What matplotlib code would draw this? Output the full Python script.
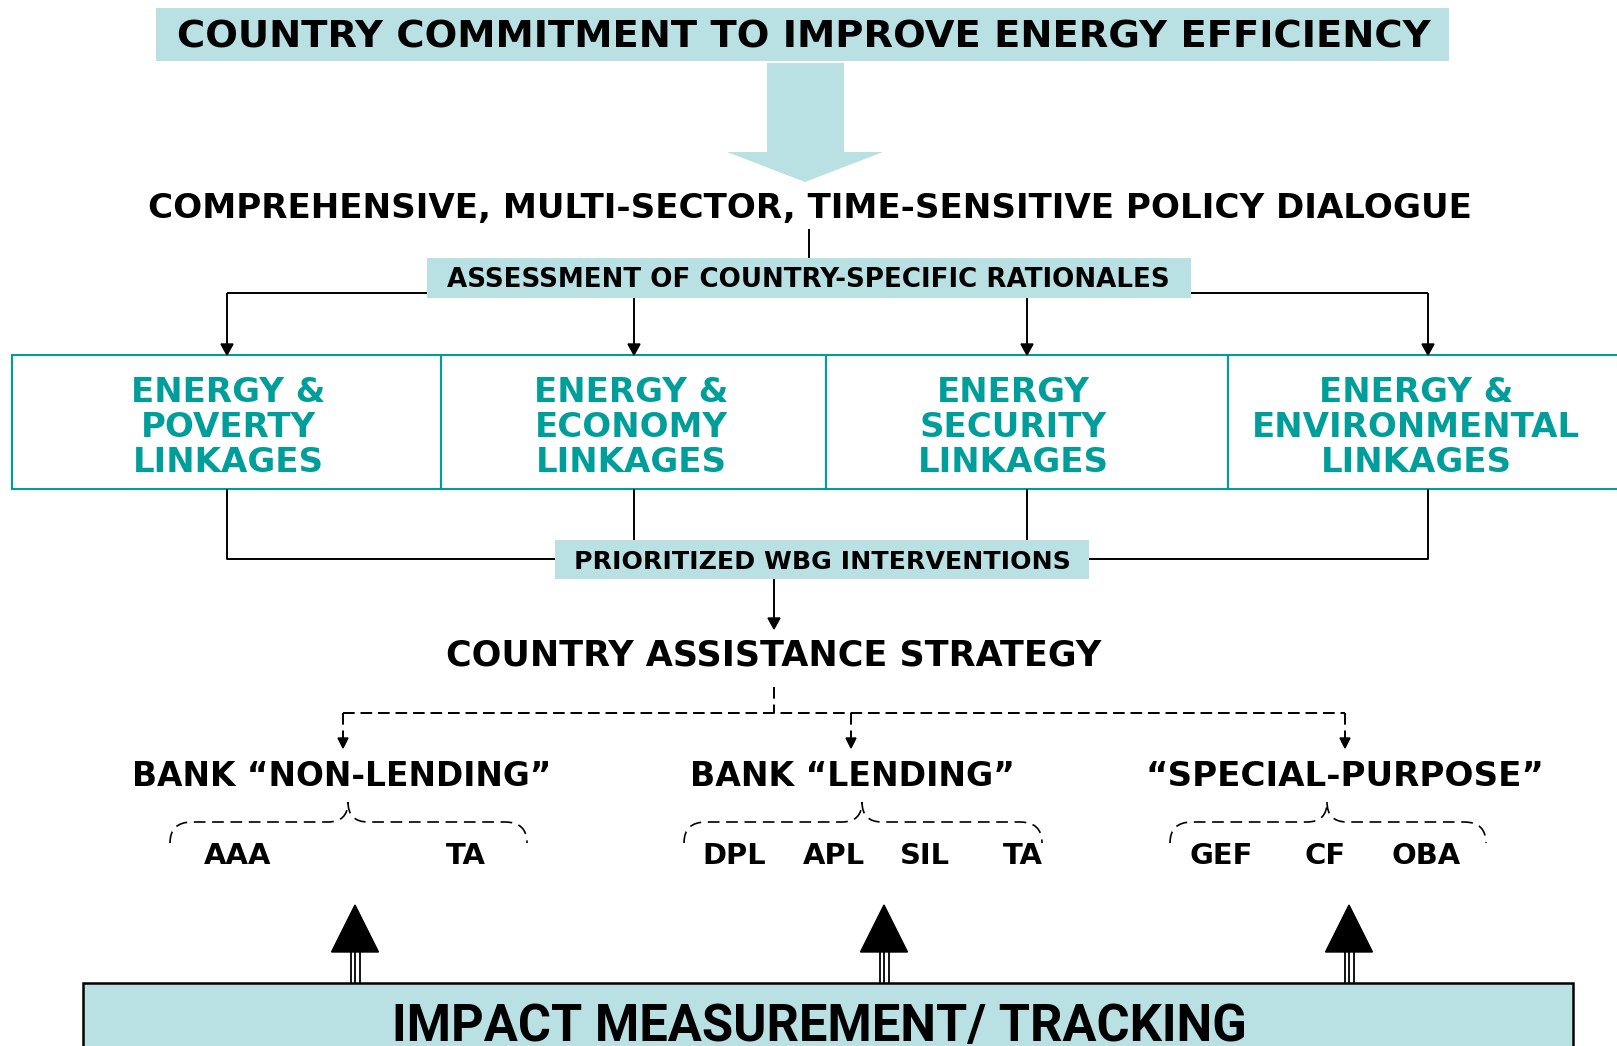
import matplotlib
matplotlib.use("Agg")
import matplotlib.pyplot as plt
from matplotlib.patches import Rectangle, Polygon, PathPatch
from matplotlib.path import Path

W, H = 1617, 1046
LIGHT = "#B9E0E3"
TEAL = "#009E9A"
FONT = "DejaVu Sans"

# texts of the diagram
title = "COUNTRY COMMITMENT TO IMPROVE ENERGY EFFICIENCY"
dialogue = "COMPREHENSIVE, MULTI-SECTOR, TIME-SENSITIVE POLICY DIALOGUE"
assessment = "ASSESSMENT OF COUNTRY-SPECIFIC RATIONALES"
linkages = [["ENERGY &", "POVERTY", "LINKAGES"],
            ["ENERGY &", "ECONOMY", "LINKAGES"],
            ["ENERGY", "SECURITY", "LINKAGES"],
            ["ENERGY &", "ENVIRONMENTAL", "LINKAGES"]]
priorities = "PRIORITIZED WBG INTERVENTIONS"
strategy = "COUNTRY ASSISTANCE STRATEGY"
channels = ["BANK \u201cNON-LENDING\u201d", "BANK \u201cLENDING\u201d", "\u201cSPECIAL-PURPOSE\u201d"]
instruments = [["AAA", "TA"], ["DPL", "APL", "SIL", "TA"], ["GEF", "CF", "OBA"]]
tracking = "IMPACT MEASUREMENT/ TRACKING"

# layout (pixels, y downwards)
link_x = [227, 634, 1027, 1428]
box_edges = [12, 441, 826, 1228, 1660]
link_text_x = [228, 631, 1013, 1416]
channel_x = [343, 851, 1345]
channel_text_x = [342, 852, 1345]
channel_w = [420, 326, 399]
braces = [(170, 348, 527), (684, 862, 1042), (1170, 1327, 1486)]
instr_x = [[238, 466], [734, 834, 925, 1023], [1221, 1325, 1426]]
up_x = [355, 884, 1349]

fig = plt.figure(figsize=(W / 100, H / 100), dpi=100)
ax = fig.add_axes([0, 0, 1, 1])
ax.set_xlim(0, W)
ax.set_ylim(H, 0)
ax.axis("off")
renderer = fig.canvas.get_renderer()


def size_for(s, width, family=FONT):
    t = ax.text(0, 0, s, fontweight="bold", family=family, fontsize=10)
    w = t.get_window_extent(renderer).width
    t.remove()
    return 10 * width / w


def fit(x, y, s, width=None, size=None, color="black", family=FONT):
    if size is None:
        size = size_for(s, width, family)
    ax.text(x, y, s, ha="center", va="baseline", fontweight="bold",
            color=color, family=family, fontsize=size, zorder=5)
    return size


def line(xs, ys, dashed=False, lw=1.4):
    ax.plot(xs, ys, color="black", lw=lw, ls=(0, (6, 3)) if dashed else "-",
            solid_capstyle="butt", zorder=3)


def arrow_down(x, y0, y1, dashed=False, hw=6, hl=11):
    line([x, x], [y0, y1 - hl], dashed)
    ax.add_patch(Polygon([[x - hw, y1 - hl], [x + hw, y1 - hl], [x, y1]],
                         closed=True, color="black", zorder=4))


# top box and big arrow
ax.add_patch(Rectangle((156, 8), 1293, 53, facecolor=LIGHT, edgecolor="none"))
fit(804, 47, title, 1258)
ax.add_patch(Polygon([[767, 63], [844, 63], [844, 152], [883, 152], [805, 182],
                      [727, 152], [767, 152]], closed=True, facecolor=LIGHT,
                     edgecolor="none"))

fit(810, 218, dialogue, 1329)
line([809, 809], [229, 258])

# assessment box
ax.add_patch(Rectangle((427, 258), 764, 40, facecolor=LIGHT, edgecolor="none"))
fit(808, 287, assessment, 726)
line([link_x[0], 427], [293, 293])
line([1191, link_x[3]], [293, 293])
for i, x in enumerate(link_x):
    arrow_down(x, 293 if i in (0, 3) else 298, 355)

# linkage boxes
for i in range(4):
    ax.add_patch(Rectangle((box_edges[i], 355), box_edges[i + 1] - box_edges[i], 134,
                           facecolor="white", edgecolor=TEAL, lw=1.5, zorder=2))
tsize = size_for("ENVIRONMENTAL", 329)
for x, lines in zip(link_text_x, linkages):
    for j, s in enumerate(lines):
        fit(x, 402 + 35 * j, s, size=tsize, color=TEAL)

# prioritized interventions
line([link_x[0], link_x[0], 555], [489, 559, 559])
line([link_x[3], link_x[3], 1089], [489, 559, 559])
line([link_x[1], link_x[1]], [489, 540])
line([link_x[2], link_x[2]], [489, 540])
ax.add_patch(Rectangle((555, 540), 534, 39, facecolor=LIGHT, edgecolor="none", zorder=2))
fit(822, 569, priorities, 497)
arrow_down(774, 579, 629)

fit(774, 665, strategy, 656)
line([774, 774], [687, 713], dashed=True)
line([channel_x[0], channel_x[-1]], [713, 713], dashed=True)
for x in channel_x:
    arrow_down(x, 713, 748, dashed=True, hw=5, hl=10)

for x, s, w in zip(channel_text_x, channels, channel_w):
    fit(x, 786, s, w)

# dashed braces
for l, m, r in braces:
    yt, yh, yb = 802, 822, 843
    verts = [(l, yb), (l, yh), (l + 22, yh), (m - 20, yh), (m, yh), (m, yt),
             (m, yt), (m, yh), (m + 20, yh), (r - 22, yh), (r, yh), (r, yb)]
    codes = [Path.MOVETO, Path.CURVE3, Path.CURVE3, Path.LINETO, Path.CURVE3, Path.CURVE3,
             Path.MOVETO, Path.CURVE3, Path.CURVE3, Path.LINETO, Path.CURVE3, Path.CURVE3]
    ax.add_patch(PathPatch(Path(verts, codes), fill=False, edgecolor="black",
                           lw=1.2, ls=(0, (7, 4))))

isize = size_for("DPL", 64)
for xs, names in zip(instr_x, instruments):
    for x, s in zip(xs, names):
        fit(x, 864, s, size=isize)

# impact measurement box and up arrows
ax.add_patch(Rectangle((83, 983), 1490, 120, facecolor=LIGHT, edgecolor="black",
                       lw=1.8, zorder=2))
for x in up_x:
    ax.add_patch(Polygon([[x - 23.5, 952], [x + 23.5, 952], [x, 905]], closed=True,
                         color="black", zorder=4))
    for dx in (-4.5, 0, 4.5):
        line([x + dx, x + dx], [951, 983], lw=1.3)
bsize = size_for(tracking, 852, family="Roboto")
fit(819, 1005 + 0.711 * bsize * 100 / 72, tracking, size=bsize, family="Roboto")

fig.savefig("out.png", dpi=100)
